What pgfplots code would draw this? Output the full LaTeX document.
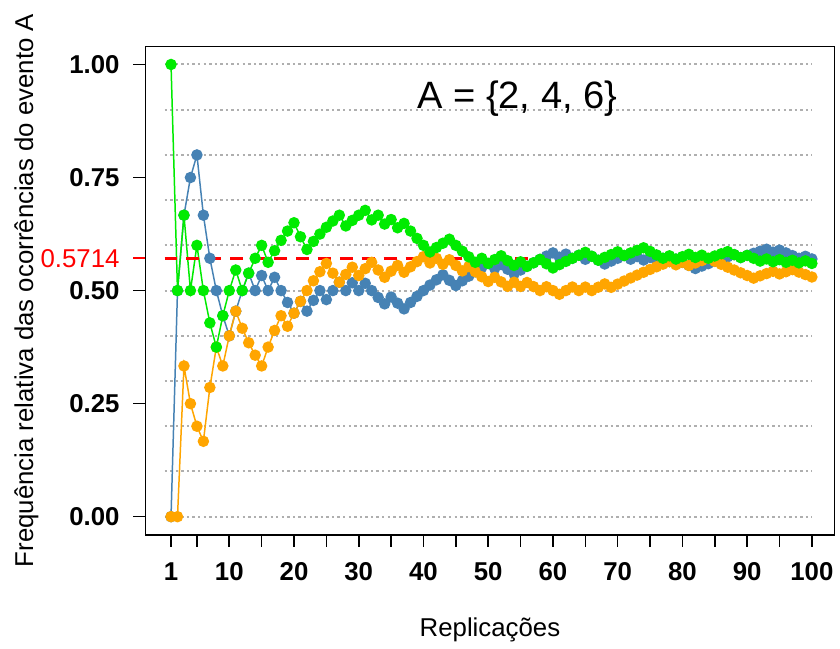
\documentclass[border=0pt]{standalone}
\usepackage{pgfplots}
\pgfplotsset{compat=1.18}
\usepackage{pgfplotstable}
\usepackage{fontspec}
\setmainfont{Liberation Sans}

\definecolor{azul}{RGB}{70,130,180}
\definecolor{laranja}{RGB}{255,165,0}
\definecolor{verde}{RGB}{0,235,0}
\definecolor{grade}{RGB}{175,175,175}

% n, freq. relativa de A em tres sequencias de lancamentos
\pgfplotstableread{
n b o g
1 0 0 1
2 0.5 0 0.5
3 0.6667 0.3333 0.6667
4 0.75 0.25 0.5
5 0.8 0.2 0.6
6 0.6667 0.1667 0.5
7 0.5714 0.2857 0.4286
8 0.5 0.375 0.375
9 0.4444 0.3333 0.4444
10 0.4 0.4 0.5
11 0.4545 0.4545 0.5455
12 0.5 0.4167 0.5
13 0.5385 0.3846 0.5385
14 0.5 0.3571 0.5714
15 0.5333 0.3333 0.6
16 0.5 0.375 0.5625
17 0.5294 0.4118 0.5882
18 0.5 0.4444 0.6111
19 0.4737 0.4211 0.6316
20 0.45 0.45 0.65
21 0.4762 0.4762 0.6190
22 0.4545 0.5 0.5909
23 0.4783 0.5217 0.6087
24 0.5 0.5417 0.625
25 0.48 0.56 0.64
26 0.5 0.5385 0.6538
27 0.5185 0.5185 0.6667
28 0.5 0.5357 0.6429
29 0.5172 0.5517 0.6552
30 0.5 0.5333 0.6667
31 0.5161 0.5484 0.6774
32 0.5 0.5625 0.6563
33 0.4848 0.5455 0.6667
34 0.4706 0.5294 0.6471
35 0.4857 0.5429 0.6571
36 0.4722 0.5556 0.6389
37 0.4595 0.5405 0.6486
38 0.4737 0.5526 0.6316
39 0.4872 0.5641 0.6154
40 0.5 0.575 0.6
41 0.5122 0.5610 0.5854
42 0.5238 0.5714 0.5952
43 0.5349 0.5581 0.6047
44 0.5227 0.5682 0.6136
45 0.5111 0.5556 0.6
46 0.5217 0.5435 0.5870
47 0.5319 0.5532 0.5745
48 0.5417 0.5417 0.5625
49 0.5510 0.5306 0.5714
50 0.56 0.52 0.56
51 0.5490 0.5294 0.5686
52 0.5577 0.5192 0.5769
53 0.5472 0.5094 0.5660
54 0.5370 0.5185 0.5556
55 0.5455 0.5091 0.5636
56 0.5536 0.5179 0.5536
57 0.5614 0.5088 0.5614
58 0.5690 0.5 0.5690
59 0.5763 0.5085 0.5593
60 0.5833 0.5 0.55
61 0.5738 0.4918 0.5574
62 0.5806 0.5 0.5645
63 0.5714 0.5079 0.5714
64 0.5781 0.5 0.5781
65 0.5692 0.5077 0.5846
66 0.5758 0.5 0.5758
67 0.5672 0.5075 0.5672
68 0.5588 0.5147 0.5735
69 0.5652 0.5072 0.5797
70 0.5714 0.5143 0.5857
71 0.5775 0.5211 0.5775
72 0.5694 0.5278 0.5833
73 0.5753 0.5342 0.5890
74 0.5676 0.5405 0.5946
75 0.5733 0.5467 0.5867
76 0.5658 0.5526 0.5789
77 0.5714 0.5584 0.5714
78 0.5641 0.5641 0.5769
79 0.5696 0.5570 0.5696
80 0.5625 0.5625 0.575
81 0.5556 0.5556 0.5802
82 0.5488 0.5610 0.5732
83 0.5542 0.5663 0.5783
84 0.5595 0.5714 0.5714
85 0.5647 0.5647 0.5765
86 0.5698 0.5581 0.5814
87 0.5747 0.5517 0.5862
88 0.5795 0.5455 0.5795
89 0.5730 0.5393 0.5730
90 0.5778 0.5333 0.5778
91 0.5824 0.5275 0.5714
92 0.5870 0.5326 0.5652
93 0.5914 0.5376 0.5699
94 0.5851 0.5426 0.5638
95 0.5895 0.5368 0.5684
96 0.5833 0.5417 0.5625
97 0.5773 0.5464 0.5670
98 0.5714 0.5408 0.5612
99 0.5758 0.5354 0.5657
100 0.57 0.53 0.56
}\freqs

\begin{document}
\begin{tikzpicture}
  \begin{axis}[
    scale only axis,
    width=346bp, height=245.2bp,
    xmin=-2.96, xmax=103.5,
    ymin=-0.04, ymax=1.04,
    axis line style={line width=0.8bp},
    tick style={line width=0.8bp, black},
    tick align=outside,
    major tick length=6bp, minor tick length=6bp,
    xtick pos=left, ytick pos=left,
    xtick={1,10,20,30,40,50,60,70,80,90,100},
    minor xtick={5,15,25,35,45,55,65,75,85,95},
    ytick={0,0.25,0.5,0.75,1},
    yticklabel style={/pgf/number format/fixed,
      /pgf/number format/fixed zerofill,
      /pgf/number format/precision=2},
    /pgf/number format/assume math mode=true,
    tick label style={font=\fontsize{13}{15}\selectfont\bfseries},
    xticklabel style={yshift=-4.5bp},
    yticklabel style={xshift=-3.5bp},
    extra y ticks={0.5714},
    extra y tick labels={0.5714},
    extra y tick style={
      tick style={red, line width=0.8bp},
      yticklabel style={text=red, font=\fontsize{13}{15}\selectfont\mdseries},
    },
    xlabel={Replicações},
    ylabel={Frequência relativa das ocorrências do evento A},
    label style={font=\fontsize{13}{15}\selectfont},
    xlabel style={at={(axis description cs:0.5,-0.208)}, anchor=base},
    ylabel style={at={(axis description cs:-0.163,0.5)}, anchor=base},
    clip=false,
  ]
    \pgfplotsinvokeforeach{0,0.1,0.2,0.3,0.4,0.5,0.6,0.7,0.8,0.9,1}{
      \addplot[grade, line width=1bp, dash pattern=on 1.2bp off 1.6bp, forget plot]
        coordinates {(0,#1) (100,#1)};
    }
    \addplot[azul, line width=0.75bp, mark=*, mark size=2.5bp,
      mark options={fill=azul, draw=azul}] table[x=n, y=b] {\freqs};
    \addplot[laranja, line width=0.75bp, mark=*, mark size=2.5bp,
      mark options={fill=laranja, draw=laranja}] table[x=n, y=o] {\freqs};
    \addplot[verde, line width=0.75bp, mark=*, mark size=2.5bp,
      mark options={fill=verde, draw=verde}] table[x=n, y=g] {\freqs};
    \addplot[red, line width=1.3bp, dash pattern=on 6.5bp off 4.5bp]
      coordinates {(0,0.5714) (100,0.5714)};
    \node[anchor=base, font=\fontsize{19.2}{23}\selectfont]
      at (axis cs:54.5,0.903) {A = \{2, 4, 6\}};
  \end{axis}
  \path[use as bounding box] (-73bp,-53bp) rectangle (347bp,268.5bp);
\end{tikzpicture}
\end{document}
